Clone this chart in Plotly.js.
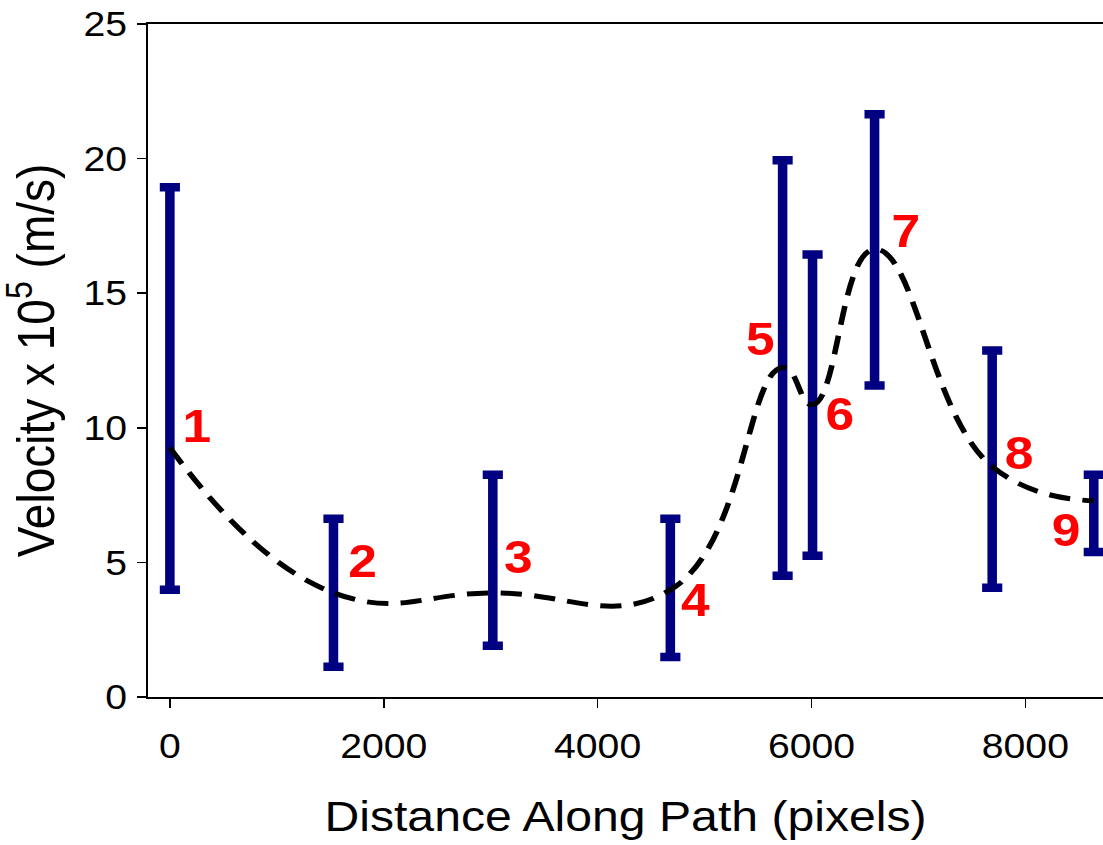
<!DOCTYPE html>
<html>
<head>
<meta charset="utf-8">
<script src="https://cdn.plot.ly/plotly-3.0.1.min.js"></script>
<style>
  html, body { margin: 0; padding: 0; background: #ffffff; overflow: hidden; }
  #chart { width: 985px; height: 845px; transform-origin: 0 0; }
</style>
</head>
<body>
<div id="chart"></div>
<script>
// Velocity measured at nine points along the path
const distance = [0, 1530, 3020, 4680, 5730, 6010, 6590, 7690, 8640];
const velocity = [9.26, 3.87, 3.87, 3.98, 12.24, 10.86, 16.63, 8.56, 7.29];
const velocityHigh = [18.94, 6.62, 8.26, 6.62, 19.94, 16.44, 21.65, 12.87, 8.26];
const velocityLow = [3.98, 1.12, 1.90, 1.49, 4.50, 5.25, 11.57, 4.06, 5.39];
const pointLabels = ['1', '2', '3', '4', '5', '6', '7', '8', '9'];
const xTicks = [0, 2000, 4000, 6000, 8000];
const yTicks = [0, 5, 10, 15, 20, 25];

// The figure is drawn narrow and widened with a horizontal scale.
const STRETCH = 1.12;
document.getElementById('chart').style.transform = 'scaleX(' + STRETCH + ')';

// Label offsets from each point, in screen pixels (right, up).
const labelOffsets = [[27, 22], [29, 32], [26, 36], [25, -10], [-22, 29],
                      [27, -9], [31, 18], [27, 14], [-28, -29]];

const FONT = 'Liberation Sans, Arial, Helvetica, sans-serif';

const rangeTrace = {
  x: distance,
  y: velocity,
  type: 'scatter',
  mode: 'markers',
  marker: { size: 1, opacity: 0 },
  cliponaxis: false,
  hoverinfo: 'skip',
  error_y: {
    type: 'data',
    symmetric: false,
    array: velocityHigh.map((h, i) => h - velocity[i]),
    arrayminus: velocityLow.map((l, i) => velocity[i] - l),
    color: '#000080',
    thickness: 8.5,
    width: 9
  }
};

const curveTrace = {
  x: distance,
  y: velocity,
  type: 'scatter',
  mode: 'lines',
  line: { shape: 'spline', smoothing: 1.3, color: '#000000', width: 5, dash: '19px,11px' },
  cliponaxis: false,
  hoverinfo: 'skip'
};

const annotations = pointLabels.map((t, i) => ({
  x: distance[i],
  y: velocity[i],
  text: t,
  showarrow: false,
  xanchor: 'center',
  yanchor: 'middle',
  xshift: labelOffsets[i][0] / STRETCH,
  yshift: labelOffsets[i][1],
  font: { family: FONT, size: 46, color: '#ff0000', weight: 'bold' }
}));

const layout = {
  width: 985,
  height: 845,
  margin: { l: 132, r: 0, t: 24, b: 148 },
  paper_bgcolor: '#ffffff',
  plot_bgcolor: '#ffffff',
  showlegend: false,
  font: { family: FONT, color: '#000000' },
  xaxis: {
    range: [-206, 8728],
    tickvals: xTicks,
    ticktext: xTicks.map(String),
    ticks: 'outside',
    ticklen: 9,
    tickwidth: 1.5,
    tickcolor: '#000000',
    ticklabelstandoff: 8,
    showline: true,
    linewidth: 2,
    linecolor: '#000000',
    mirror: true,
    showgrid: false,
    zeroline: false,
    tickfont: { family: FONT, size: 35, color: '#000000' },
    title: { text: 'Distance Along Path (pixels)', font: { family: FONT, size: 43, color: '#000000' }, standoff: 37 }
  },
  yaxis: {
    range: [0, 25],
    tickvals: yTicks,
    ticktext: yTicks.map(String),
    ticks: 'outside',
    ticklen: 8,
    tickwidth: 1.5,
    tickcolor: '#000000',
    ticklabelstandoff: 2,
    showline: true,
    linewidth: 1.5,
    linecolor: '#000000',
    showgrid: false,
    zeroline: false,
    tickfont: { family: FONT, size: 35, color: '#000000' },
    title: { text: 'Velocity x 10<sup>5</sup> (m/s)', font: { family: FONT, size: 46, color: '#000000' }, standoff: 12 }
  },
  annotations: annotations
};

Plotly.newPlot('chart', [rangeTrace, curveTrace], layout, { staticPlot: true, displayModeBar: false });
</script>
</body>
</html>
